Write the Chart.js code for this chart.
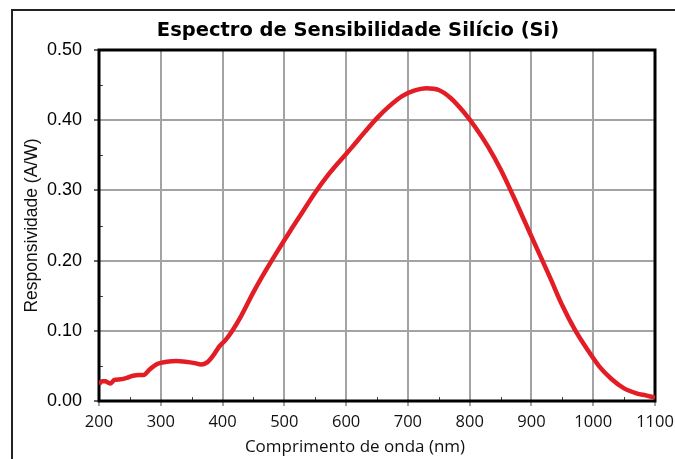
<!DOCTYPE html>
<html>
<head>
<meta charset="utf-8">
<script src="https://cdn.jsdelivr.net/npm/chart.js@4.4.1/dist/chart.umd.min.js"></script>
<style>
  html, body { margin: 0; padding: 0; background: #ffffff; }
  #wrap { width: 675px; height: 459px; position: relative; }
</style>
</head>
<body>
<div id="wrap"><canvas id="c" width="675" height="459"></canvas></div>
<script>
// Silicon photodiode spectral responsivity (A/W) versus wavelength (nm)
const wavelengths = [200, 205, 210, 218, 225, 235, 245, 255, 265, 272, 282, 295, 310, 325, 340, 355, 365, 375, 385, 395, 405, 415, 430, 450, 470, 490, 510, 530, 550, 570, 590, 610, 630, 650, 670, 690, 710, 730, 750, 770, 790, 810, 830, 850, 870, 890, 910, 930, 950, 970, 990, 1010, 1030, 1050, 1070, 1085, 1100];
const responsivity = [0.024, 0.028, 0.028, 0.025, 0.030, 0.031, 0.033, 0.036, 0.037, 0.037, 0.045, 0.053, 0.056, 0.057, 0.056, 0.054, 0.052, 0.055, 0.065, 0.078, 0.087, 0.099, 0.121, 0.155, 0.186, 0.215, 0.243, 0.270, 0.297, 0.321, 0.342, 0.362, 0.383, 0.403, 0.420, 0.434, 0.442, 0.4455, 0.443, 0.431, 0.412, 0.389, 0.362, 0.330, 0.293, 0.254, 0.215, 0.176, 0.136, 0.102, 0.074, 0.049, 0.031, 0.018, 0.011, 0.008, 0.005];
const xTicks = [200, 300, 400, 500, 600, 700, 800, 900, 1000, 1100];
const yTicks = [0.00, 0.10, 0.20, 0.30, 0.40, 0.50];

const titleText = 'Espectro de Sensibilidade Silício (Si)';
const xTitle = 'Comprimento de onda (nm)';
const yTitle = 'Responsividade (A/W)';

const points = wavelengths.map((w, i) => ({ x: w, y: responsivity[i] }));

// Outer frame, titles, plot border and minor ticks
const decorations = {
  id: 'decorations',
  beforeDatasetsDraw(chart) {
    const { ctx, chartArea: a, scales: { x, y } } = chart;
    ctx.save();
    // minor ticks every 50 nm and every 0.05 A/W, pointing inward
    ctx.strokeStyle = '#444';
    ctx.lineWidth = 1;
    ctx.beginPath();
    for (let w = 250; w < 1100; w += 100) {
      const px = Math.round(x.getPixelForValue(w)) + 0.5;
      ctx.moveTo(px, a.bottom);
      ctx.lineTo(px, a.bottom - 4);
    }
    for (let v = 0.05; v < 0.5; v += 0.1) {
      const py = Math.round(y.getPixelForValue(v)) + 0.5;
      ctx.moveTo(a.left, py);
      ctx.lineTo(a.left + 4, py);
    }
    ctx.stroke();
    // plot border
    ctx.strokeStyle = '#000';
    ctx.lineWidth = 3;
    ctx.strokeRect(a.left, a.top, a.right - a.left, a.bottom - a.top);
    ctx.restore();
  },
  afterDraw(chart) {
    const { ctx } = chart;
    ctx.save();
    // outer frame (top and left edges)
    ctx.strokeStyle = '#222';
    ctx.lineWidth = 2;
    ctx.beginPath();
    ctx.moveTo(675, 10);
    ctx.lineTo(12, 10);
    ctx.lineTo(12, 459);
    ctx.stroke();
    ctx.fillStyle = '#000';
    ctx.textAlign = 'center';
    ctx.textBaseline = 'middle';
    // chart title
    ctx.font = 'bold 19.5px "DejaVu Sans"';
    ctx.fillText(titleText, 358, 31);
    // x axis title
    ctx.fillStyle = '#111';
    ctx.font = '17px "Open Sans"';
    ctx.fillText(xTitle, 355, 447);
    ctx.restore();
  }
};

new Chart(document.getElementById('c'), {
  type: 'line',
  data: {
    datasets: [{
      data: points,
      borderColor: '#e31d25',
      borderWidth: 4.5,
      pointRadius: 0,
      cubicInterpolationMode: 'monotone',
      fill: false
    }]
  },
  options: {
    responsive: false,
    animation: false,
    events: [],
    layout: { padding: { top: 50, right: 20, left: 0, bottom: 0 } },
    plugins: { legend: { display: false }, tooltip: { enabled: false }, title: { display: false } },
    scales: {
      x: {
        type: 'linear',
        min: 200,
        max: 1100,
        afterBuildTicks(scale) { scale.ticks = xTicks.map(v => ({ value: v })); },
        afterFit(scale) {
          scale.height = 58;
          scale.paddingLeft = 0;
          scale.paddingRight = 0;
        },
        border: { display: false },
        grid: { color: '#a3a3a3', lineWidth: 2, tickLength: 5, tickColor: '#a3a3a3' },
        ticks: {
          color: '#111',
          font: { family: '"Open Sans"', size: 16.5 },
          padding: 6,
          maxRotation: 0,
          callback: v => String(v)
        }
      },
      y: {
        min: 0,
        max: 0.5,
        afterBuildTicks(scale) { scale.ticks = yTicks.map(v => ({ value: v })); },
        afterFit(scale) { scale.width = 99; },
        border: { display: false },
        grid: { color: '#a3a3a3', lineWidth: 2, tickLength: 5, tickColor: '#666' },
        ticks: {
          color: '#000',
          font: { family: '"Liberation Sans"', size: 18 },
          padding: 12,
          callback: v => Number(v).toFixed(2)
        },
        title: {
          display: true,
          text: yTitle,
          color: '#111',
          font: { family: '"Liberation Sans"', size: 17.5 },
          padding: { top: 22 }
        }
      }
    }
  },
  plugins: [decorations]
});
</script>
</body>
</html>
